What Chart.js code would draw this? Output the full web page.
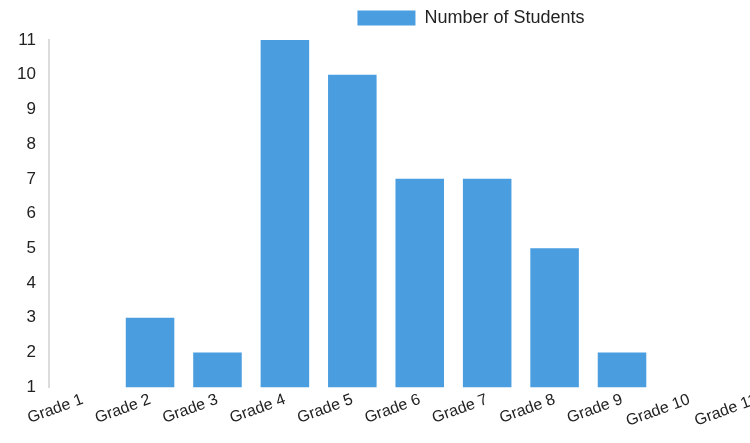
<!DOCTYPE html>
<html>
<head>
<meta charset="utf-8">
<script src="https://cdn.jsdelivr.net/npm/chart.js@4/dist/chart.umd.min.js"></script>
<style>
  html, body { margin: 0; padding: 0; background: #fff; }
  #wrap { width: 750px; height: 443px; overflow: hidden; position: relative; }
  canvas { position: absolute; left: 0; top: 0; }
</style>
</head>
<body>
<div id="wrap"><canvas id="studentsChart" width="930" height="443"></canvas></div>
<script>
    // grades and how many students in each
    var gradeLabels = ["Grade 1", "Grade 2", "Grade 3", "Grade 4", "Grade 5", "Grade 6",
                       "Grade 7", "Grade 8", "Grade 9", "Grade 10", "Grade 11", "Grade 12"];
    var studentCounts = [1, 3, 2, 11, 10, 7, 7, 5, 2, 1, 1, 1];
    var yTicks = [1, 2, 3, 4, 5, 6, 7, 8, 9, 10, 11];
    var barColor = '#4a9ddf';

    // push the plot down a bit below the legend
    var legendGap = {
        id: 'legendGap',
        beforeInit: function(chart) {
            var fit = chart.legend.fit;
            chart.legend.fit = function() {
                fit.bind(chart.legend)();
                this.height += 3;
            };
        }
    };

    var ctx = document.getElementById('studentsChart').getContext('2d');
    var studentsChart = new Chart(ctx, {
        type: 'bar',
        data: {
            labels: gradeLabels,
            datasets: [{
                label: 'Number of Students',
                data: studentCounts,
                // bars sitting on the axis minimum have no height, don't leave a hairline
                backgroundColor: function(c) {
                    if (c.type === 'data' && c.raw <= yTicks[0]) return 'rgba(0,0,0,0)';
                    return barColor;
                },
                borderWidth: 0,
                inflateAmount: 0
            }]
        },
        options: {
            responsive: false,
            animation: false,
            devicePixelRatio: 1,
            layout: {
                padding: { left: 12, right: 0, top: 0, bottom: 9 }
            },
            scales: {
                x: {
                    grid: { display: false, drawTicks: false },
                    border: { display: false },
                    ticks: {
                        color: '#222',
                        padding: 3,
                        font: { family: 'Liberation Sans, Arial', size: 16 },
                        minRotation: 20,
                        maxRotation: 20,
                        autoSkip: false
                    }
                },
                y: {
                    min: yTicks[0],
                    max: yTicks[yTicks.length - 1],
                    grid: { display: false },
                    border: { display: true, color: '#dcdcdc', width: 2 },
                    ticks: {
                        stepSize: 1,
                        color: '#222',
                        padding: 5,
                        font: { family: 'Liberation Sans, Arial', size: 17 }
                    }
                },
                // empty space on the right, where the photo is cut off
                yRight: {
                    position: 'right',
                    grid: { display: false },
                    border: { display: false },
                    ticks: { display: false },
                    afterFit: function(scale) { scale.width = 72; }
                }
            },
            plugins: {
                legend: {
                    display: true,
                    labels: {
                        boxWidth: 58,
                        boxHeight: 15,
                        padding: 9,
                        color: '#222',
                        font: { family: 'Liberation Sans, Arial', size: 18 },
                        generateLabels: function(chart) {
                            var items = Chart.defaults.plugins.legend.labels.generateLabels(chart);
                            items.forEach(function(item) {
                                item.fillStyle = barColor;
                                item.strokeStyle = barColor;
                                item.lineWidth = 0;
                            });
                            return items;
                        }
                    }
                },
                tooltip: { enabled: false }
            }
        },
        plugins: [legendGap]
    });
</script>
</body>
</html>
